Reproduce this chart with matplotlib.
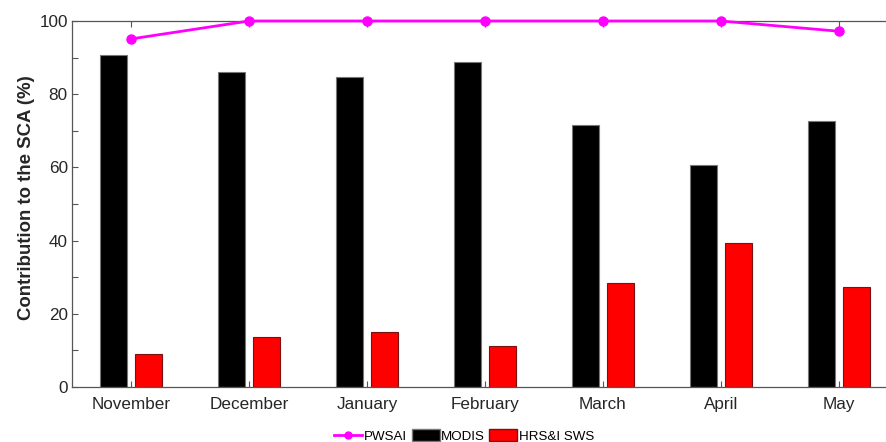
import matplotlib
matplotlib.use("Agg")
import matplotlib.pyplot as plt
import numpy as np
from matplotlib.patches import Patch
from matplotlib.lines import Line2D

months = ["November", "December", "January", "February", "March", "April", "May"]
modis = [90.7, 86.1, 84.8, 88.7, 71.6, 60.6, 72.7]
hrs_sws = [9.0, 13.7, 14.9, 11.3, 28.3, 39.3, 27.2]
pwsai = [95.1, 100.0, 100.0, 100.0, 100.0, 100.0, 97.2]

plt.rcParams["font.family"] = ["Liberation Sans", "DejaVu Sans"]

fig = plt.figure(figsize=(8.86, 4.42), dpi=100)
ax = fig.add_axes([72 / 886, 55 / 442, 826 / 886, 366 / 442])

x = np.arange(1, len(months) + 1)
off = 0.145
w = 0.23
ax.bar(x - off, modis, width=w, color="black", edgecolor="#777777", linewidth=0.8, zorder=2)
ax.bar(x + off, hrs_sws, width=w, color="#ff0000", edgecolor="#7a1010", linewidth=0.8, zorder=2)
ax.plot(x, pwsai, color="#ff00ff", lw=2, marker="o", ms=6.5, clip_on=False, zorder=5)

ax.set_xlim(0.5, 7.5)
ax.set_ylim(0, 100)
ax.set_xticks(x)
ax.set_xticklabels(months)
ax.set_yticks(np.arange(0, 101, 20))
ax.set_yticks(np.arange(10, 100, 20), minor=True)

axis_col = "#555555"
for s in ax.spines.values():
    s.set_color(axis_col)
    s.set_linewidth(0.9)
ax.tick_params(axis="both", which="both", direction="in", colors=axis_col,
               labelcolor="#262626", labelsize=12.3, top=True, right=False)
ax.tick_params(axis="both", which="major", length=4, width=0.8)
ax.tick_params(axis="both", which="minor", length=4, width=0.8)
ax.tick_params(axis="x", pad=7)
ax.tick_params(axis="y", pad=3)

ax.set_ylabel("Contribution to the SCA (%)", fontsize=13.4, fontweight="bold", color="#262626")
ax.yaxis.set_label_coords(-0.045, 0.518)

handles = [
    Line2D([], [], color="#ff00ff", lw=2, marker="o", ms=5),
    Patch(facecolor="black", edgecolor="#777777"),
    Patch(facecolor="#ff0000", edgecolor="#7a1010"),
]
fig.legend(handles, ["PWSAI", "MODIS", "HRS&I SWS"], loc="lower center",
           bbox_to_anchor=(0.524, -0.02), ncol=3, frameon=False, fontsize=9.6,
           handlelength=2.1, handleheight=1.0, handletextpad=0.1, columnspacing=0.35,
           borderaxespad=0.2)

fig.savefig("out.png", dpi=100)
